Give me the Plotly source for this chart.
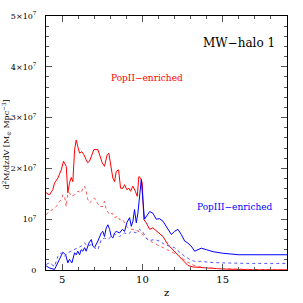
import plotly.graph_objects as go

# ---- data (values in units of 1e7) ----
z_pop2_tot = [4.0, 4.22, 4.42, 4.53, 4.74, 4.95, 5.09, 5.26, 5.36, 5.46, 5.57, 5.67, 5.78, 5.88, 5.98,
              6.09, 6.23, 6.36, 6.50, 6.60, 6.71, 6.82, 6.98, 7.23, 7.33, 7.50, 7.64, 7.81, 7.91, 8.02,
              8.16, 8.27, 8.37, 8.52, 8.64, 8.79, 8.89, 9.03, 9.16, 9.26, 9.41, 9.56, 9.68, 9.78, 9.89,
              9.99, 10.09, 10.24, 10.45, 10.65, 10.97, 11.28, 11.59, 11.90, 12.21, 12.52, 12.83, 13.14,
              13.5, 14.0, 15.0, 16.0, 17.0, 18.0, 19.0]
v_pop2_tot = [1.52, 1.48, 1.58, 1.71, 1.81, 1.97, 2.14, 2.04, 1.52, 1.71, 1.82, 1.74, 2.37, 2.56, 2.43,
              2.30, 2.33, 2.27, 2.17, 2.11, 2.14, 2.24, 2.37, 2.37, 2.27, 2.11, 2.04, 2.27, 2.30, 2.07,
              1.81, 1.74, 1.94, 1.97, 1.61, 1.61, 1.68, 1.58, 1.61, 1.55, 1.65, 1.55, 1.45, 1.84, 1.81,
              1.71, 0.99, 0.93, 0.80, 0.83, 0.74, 0.66, 0.50, 0.40, 0.30, 0.18, 0.09, 0.06,
              0.05, 0.04, 0.02, 0.01, 0.01, 0.005, 0.005]

z_pop2_dot = [4.01, 4.22, 4.42, 4.64, 4.84, 4.95, 5.05, 5.15, 5.26, 5.36, 5.46, 5.57, 5.78, 5.98, 6.19,
              6.29, 6.40, 6.50, 6.60, 6.71, 6.82, 6.92, 7.02, 7.13, 7.33, 7.54, 7.64, 7.75, 7.96, 8.12,
              8.27, 8.47, 8.58, 8.79, 8.95, 9.10, 9.31, 9.51, 9.72, 9.93, 10.13, 10.34, 10.65, 10.97,
              11.28, 11.59, 11.9, 12.3, 12.7, 13.0, 13.4, 13.8, 14.6, 15.5, 17.0, 19.0]
v_pop2_dot = [1.09, 1.16, 1.19, 1.25, 1.35, 1.39, 1.48, 1.45, 1.25, 1.52, 1.52, 1.45, 1.48, 1.55, 1.52,
              1.61, 1.65, 1.55, 1.39, 1.32, 1.35, 1.39, 1.42, 1.35, 1.25, 1.25, 1.35, 1.19, 1.09, 1.12,
              1.03, 1.06, 0.99, 0.99, 0.89, 0.83, 0.80, 0.80, 0.76, 0.73, 0.66, 0.60, 0.54, 0.49,
              0.44, 0.40, 0.35, 0.28, 0.18, 0.12, 0.07, 0.05, 0.03, 0.02, 0.01, 0.01]

z_pop3_tot = [4.01, 4.22, 4.53, 4.74, 4.95, 5.05, 5.22, 5.36, 5.46, 5.61, 5.78, 5.88, 5.98, 6.09, 6.19,
              6.29, 6.40, 6.50, 6.67, 6.82, 6.92, 7.02, 7.23, 7.44, 7.54, 7.64, 7.75, 7.85, 7.96, 8.06,
              8.16, 8.27, 8.37, 8.58, 8.75, 8.89, 9.03, 9.20, 9.31, 9.41, 9.51, 9.62, 9.72, 9.85, 9.93,
              10.05, 10.13, 10.45, 10.65, 10.86, 11.07, 11.28, 11.59, 11.80, 12.0, 12.21, 12.42, 12.63,
              12.83, 13.04, 13.25, 13.46, 13.67, 13.98, 14.4, 15.0, 16.0, 17.5, 19.0]
v_pop3_tot = [0.08, 0.04, 0.01, 0.14, 0.30, 0.35, 0.30, 0.14, 0.21, 0.14, 0.34, 0.30, 0.37, 0.30, 0.40,
              0.37, 0.44, 0.37, 0.53, 0.60, 0.47, 0.44, 0.57, 0.73, 0.76, 0.66, 0.83, 0.89, 0.80, 0.66,
              0.63, 0.73, 0.76, 0.73, 0.80, 0.76, 0.93, 1.03, 0.86, 0.96, 1.19, 0.93, 1.12, 1.60, 1.78,
              1.30, 1.00, 1.15, 1.12, 1.00, 1.01, 0.96, 0.80, 0.70, 0.76, 0.80, 0.70, 0.57,
              0.53, 0.47, 0.37, 0.40, 0.43, 0.40, 0.36, 0.33, 0.30, 0.30, 0.30]

z_pop3_dot = [4.01, 4.22, 4.53, 4.74, 4.95, 5.15, 5.36, 5.57, 5.78, 5.98, 6.19, 6.40, 6.60, 6.82, 7.02,
              7.23, 7.44, 7.64, 7.85, 8.06, 8.27, 8.58, 8.89, 9.10, 9.31, 9.62, 9.83, 10.03, 10.24,
              10.45, 10.76, 11.07, 11.38, 11.69, 12.0, 12.32, 12.63, 12.94, 13.25, 13.6, 14.2, 15.0,
              16.5, 19.0]
v_pop3_dot = [0.11, 0.14, 0.07, 0.27, 0.34, 0.27, 0.34, 0.37, 0.40, 0.44, 0.47, 0.53, 0.47, 0.50, 0.44,
              0.40, 0.60, 0.63, 0.60, 0.66, 0.70, 0.66, 0.73, 0.70, 0.76, 0.73, 0.80, 0.75, 0.62,
              0.58, 0.60, 0.57, 0.50, 0.47, 0.44, 0.35, 0.27, 0.21, 0.17, 0.17, 0.15, 0.14,
              0.13, 0.13]

y_tick_vals = [0, 1e7, 2e7, 3e7, 4e7, 5e7]
y_tick_text = ["0", "10<sup>7</sup>", "2×10<sup>7</sup>", "3×10<sup>7</sup>", "4×10<sup>7</sup>", "5×10<sup>7</sup>"]
x_tick_vals = [5, 10, 15]
x_tick_text = ["5", "10", "15"]

SCALE = 1e7
FONT = "DejaVu Serif"

fig = go.Figure()
series = [
    (z_pop2_tot, v_pop2_tot, "red", "solid"),
    (z_pop2_dot, v_pop2_dot, "#ff5555", "dot"),
    (z_pop3_tot, v_pop3_tot, "blue", "solid"),
    (z_pop3_dot, v_pop3_dot, "#5555ff", "dot"),
]
for zz, vv, col, dash in series:
    fig.add_trace(go.Scatter(x=zz, y=[v * SCALE for v in vv], mode="lines",
                             line=dict(color=col, width=1, dash=dash),
                             showlegend=False, hoverinfo="skip"))

fig.update_layout(
    width=303, height=303,
    margin=dict(l=46, r=16, t=16, b=33, autoexpand=False),
    paper_bgcolor="white", plot_bgcolor="white",
    font=dict(family=FONT, size=9, color="black"),
    xaxis=dict(range=[4, 19], tickvals=x_tick_vals, ticktext=x_tick_text,
               ticks="inside", ticklen=6, tickcolor="#555", tickwidth=1,
               minor=dict(dtick=1, tick0=0, ticks="inside", ticklen=3, tickcolor="#555"),
               showline=True, linecolor="black", linewidth=1, mirror="allticks",
               showgrid=False, zeroline=False, tickfont=dict(size=10), automargin=False),
    yaxis=dict(range=[0, 5e7], tickvals=y_tick_vals, ticktext=y_tick_text,
               ticks="inside", ticklen=6, tickcolor="#555", tickwidth=1,
               minor=dict(dtick=2e6, tick0=0, ticks="inside", ticklen=3, tickcolor="#555"),
               showline=True, linecolor="black", linewidth=1, mirror="allticks",
               showgrid=False, zeroline=False, tickfont=dict(size=8), ticklabelstandoff=7,
               automargin=False),
    annotations=[
        dict(text="MW−halo 1", x=0.957, y=0.895, xref="paper", yref="paper",
             xanchor="right", yanchor="middle", showarrow=False,
             font=dict(size=12, color="black", family=FONT)),
        dict(text="PopII−enriched", x=0.418, y=0.756, xref="paper", yref="paper",
             xanchor="center", yanchor="middle", showarrow=False,
             font=dict(size=9, color="red", family=FONT)),
        dict(text="PopIII−enriched", x=0.784, y=0.25, xref="paper", yref="paper",
             xanchor="center", yanchor="middle", showarrow=False,
             font=dict(size=9, color="blue", family=FONT)),
        dict(text="z", x=0.5, y=-0.088, xref="paper", yref="paper",
             xanchor="center", yanchor="middle", showarrow=False,
             font=dict(size=10, color="black", family=FONT)),
        dict(text="d<sup>2</sup>M/dzdV [M<sub>⊙</sub> Mpc<sup>−3</sup>]", x=-0.163, y=0.493,
             xref="paper", yref="paper", textangle=-90,
             xanchor="center", yanchor="middle", showarrow=False,
             font=dict(size=8, color="black", family=FONT)),
    ],
)

fig.write_html("out.html", config={"displayModeBar": False, "staticPlot": True},
               post_script="document.body.style.margin='0';document.body.style.overflow='hidden';")
